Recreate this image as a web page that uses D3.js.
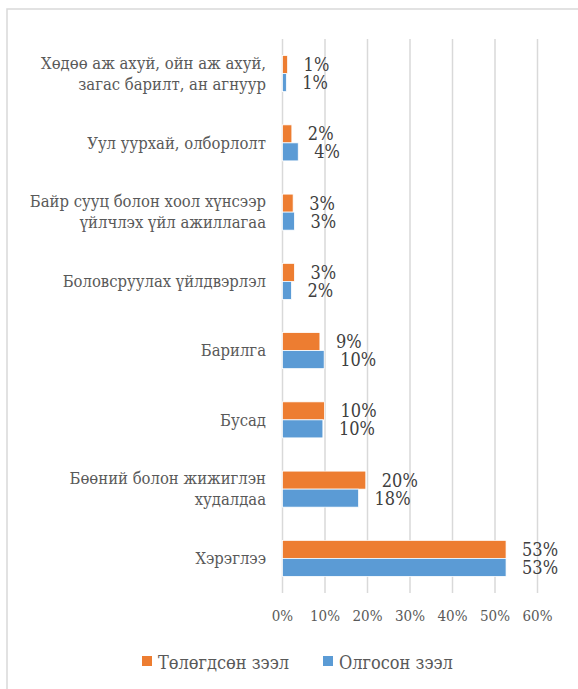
<!DOCTYPE html>
<html lang="mn">
<head>
<meta charset="UTF-8">
<title>Зээл салбараар</title>
<script src="https://d3js.org/d3.v7.min.js"></script>
<style>
  body { margin: 0; background: #fff; }
  svg text { font-family: "DejaVu Serif Condensed", "DejaVu Serif", serif; font-stretch: condensed; }
</style>
</head>
<body>
<svg id="chart" width="578" height="689"></svg>
<script>
// categories, top to bottom (label lines as in the picture)
const categories = [
  ["Хөдөө аж ахуй, ойн аж ахуй,", "загас барилт, ан агнуур"],
  ["Уул уурхай, олборлолт"],
  ["Байр сууц болон хоол хүнсээр", "үйлчлэх үйл ажиллагаа"],
  ["Боловсруулах үйлдвэрлэл"],
  ["Барилга"],
  ["Бусад"],
  ["Бөөний болон жижиглэн", "худалдаа"],
  ["Хэрэглээ"]
];
const seriesNames = ["Төлөгдсөн зээл", "Олгосон зээл"];
// percent values
const repaid = [1.2, 2.2, 2.5, 2.8, 8.8, 9.9, 19.6, 52.6];
const issued = [0.9, 3.7, 2.8, 2.1, 9.8, 9.5, 17.9, 52.6];
const tickValues = [0, 10, 20, 30, 40, 50, 60];

const colors = ["#ED7D31", "#5B9BD5"];
const svg = d3.select("#chart");

const plot = { left: 282.5, right: 537.5, top: 39, bottom: 593 };

// chart border
svg.append("rect")
  .attr("x", 7).attr("y", 9)
  .attr("width", 600).attr("height", 720)
  .attr("fill", "none")
  .attr("stroke", "#d9d9d9")
  .attr("stroke-width", 1.5);

const x = d3.scaleLinear().domain([0, 60]).range([plot.left, plot.right]);
const y = d3.scaleBand()
  .domain(d3.range(categories.length))
  .range([plot.top, plot.bottom])
  .paddingInner(0.48)
  .paddingOuter(0.24);
const ySub = d3.scaleBand().domain([0, 1]).range([0, y.bandwidth()]);

// gridlines
svg.append("g").selectAll("line")
  .data(tickValues)
  .join("line")
  .attr("x1", d => x(d)).attr("x2", d => x(d))
  .attr("y1", plot.top).attr("y2", plot.bottom)
  .attr("stroke", "#d9d9d9")
  .attr("stroke-width", 1.5);

// tick labels
svg.append("g").selectAll("text")
  .data(tickValues)
  .join("text")
  .attr("x", d => x(d))
  .attr("y", 621)
  .attr("text-anchor", "middle")
  .attr("font-size", 15)
  .attr("fill", "#595959")
  .text(d => d + "%");

// category labels
const catG = svg.append("g").selectAll("text")
  .data(categories)
  .join("text")
  .attr("text-anchor", "end")
  .attr("font-size", 16.5)
  .attr("fill", "#595959")
  .attr("transform", (d, i) => `translate(266,${y(i) + y.bandwidth() / 2})`);
catG.selectAll("tspan")
  .data(d => d.map((t, j) => ({ t, j, n: d.length })))
  .join("tspan")
  .attr("x", 0)
  .attr("y", d => (d.j - (d.n - 1) / 2) * 21)
  .attr("dy", "0.35em")
  .text(d => d.t);

// bars
const series = [repaid, issued];
series.forEach((vals, s) => {
  const g = svg.append("g");
  g.selectAll("rect")
    .data(vals)
    .join("rect")
    .attr("x", x(0))
    .attr("y", (d, i) => y(i) + ySub(s))
    .attr("width", d => x(d) - x(0))
    .attr("height", ySub.bandwidth())
    .attr("fill", colors[s])
    .attr("stroke", "#fff")
    .attr("stroke-width", 0.75);
  g.selectAll("text")
    .data(vals)
    .join("text")
    .attr("x", d => x(d) + 16)
    .attr("y", (d, i) => y(i) + ySub(s) + ySub.bandwidth() / 2)
    .attr("dy", "0.36em")
    .attr("font-size", 18)
    .attr("fill", "#404040")
    .text(d => Math.round(d) + "%");
});

// legend
const legend = svg.append("g").selectAll("g")
  .data(seriesNames)
  .join("g")
  .attr("transform", (d, i) => `translate(${i === 0 ? 142 : 323},656)`);
legend.append("rect")
  .attr("width", 10).attr("height", 10)
  .attr("fill", (d, i) => colors[i]);
legend.append("text")
  .attr("x", 16).attr("y", 12.5)
  .attr("font-size", 18)
  .attr("fill", "#595959")
  .text(d => d);
</script>
</body>
</html>
